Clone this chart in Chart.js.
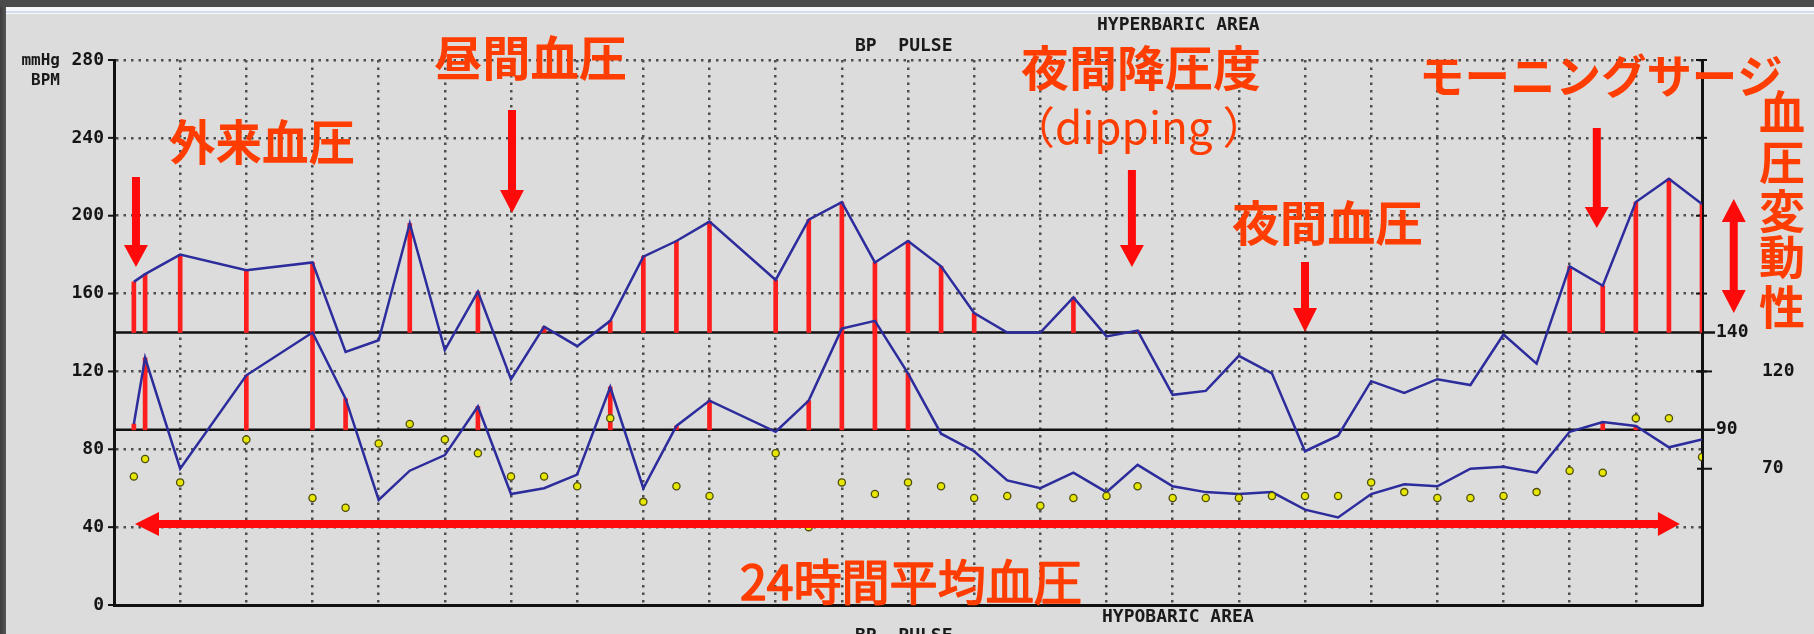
<!DOCTYPE html>
<html>
<head>
<meta charset="utf-8">
<script src="https://cdn.jsdelivr.net/npm/chart.js@4/dist/chart.umd.min.js"></script>
<style>
  html, body { margin: 0; padding: 0; background: #dcdcdc; overflow: hidden; }
  #wrap { position: relative; width: 1814px; height: 634px; }
  canvas { display: block; }
</style>
</head>
<body>
<div id="wrap"><canvas id="c" width="1814" height="634"></canvas></div>
<script>
// ---- data ----
const hours = [0.3,0.47,1,2,3,3.5,4,4.47,5,5.5,6,6.5,7,7.5,8,8.5,9,10,10.5,11,11.5,12,12.5,13,13.5,14,14.5,15,15.47,16,16.5,17,17.5,18,18.5,19,19.5,20,20.5,21,21.5,22,22.5,23,23.5,24];
const systolic = [166,170,180,172,176,130,136,196,131,161,116,143,133,146,179,187,197,167,198,207,176,187,174,150,140,140,158,138,141,108,110,128,119,79,87,115,109,116,113,139,124,174,164,207,219,206];
const diastolic = [93,127,70,118,140,106,54,69,77,102,57,60,67,112,60,92,105,89,105,142,146,119,88,79,64,60,68,58,72,61,58,57,58,49,45,57,62,61,70,71,68,89,94,92,81,85];
const pulse = [66,75,63,85,55,50,83,93,85,78,66,66,61,96,53,61,56,78,40,63,57,63,61,55,56,51,55,56,61,55,55,55,56,56,56,63,58,55,55,56,58,69,68,96,96,76];
const yTicks = [0,40,80,120,160,200,240,280];
const rightTicksNear = [140,90];
const rightTicksFar = [120,70];
const sbpLimit = 140;
const dbpLimit = 90;

// ---- derived series ----
const sbpPts = hours.map((h,i)=>({x:h, y:systolic[i]}));
const dbpPts = hours.map((h,i)=>({x:h, y:diastolic[i]}));
const pulsePts = hours.map((h,i)=>({x:h, y:pulse[i]}));
const sbpExcess = hours.map((h,i)=>({x:h, y:[sbpLimit, systolic[i]]})).filter(p=>p.y[1]>sbpLimit);
const dbpExcess = hours.map((h,i)=>({x:h, y:[dbpLimit, diastolic[i]]})).filter(p=>p.y[1]>dbpLimit);

// ---- annotation anchors in data units (hour, mmHg) ----
const annoTexts = [
  {t:'外来血圧', h0:0.861, h1:3.612, v:237.9, size:48, weight:'bold', stroke:0},
  {t:'昼間血圧', h0:4.866, h1:7.723, v:281.0, size:48, weight:'bold', stroke:0},
  {t:'夜間降圧度', h0:13.737, h1:17.304, v:275.9, size:48, weight:'bold', stroke:0},
  {t:'夜間血圧', h0:16.926, h1:19.752, v:196.3, size:48, weight:'bold', stroke:0},
  {t:'モーニングサージ', h0:19.752, h1:25.193, v:272.0, size:46, weight:'bold', stroke:0},
  {t:'24時間平均血圧', h0:9.491, h1:14.599, v:11.8, size:48, weight:'normal', stroke:1.6}
];
const dipText = {t:'（dipping ）', h0:13.556, v:245.6, size:44};
const vertText = {chars:['血','圧','変','動','性'], h:25.208, v:[253.3,227.6,202.9,178.8,153.6], size:46};
const downArrows = [
  {h:0.332, top:219.9, base:185.0, tip:173.7},
  {h:6.015, top:254.3, base:213.2, tip:201.4},
  {h:15.384, top:223.5, base:185.0, tip:173.7},
  {h:18.0, top:176.2, base:152.6, tip:140.3},
  {h:22.41, top:245.1, base:204.5, tip:193.7}
];
const dblVArrow = {h:24.48, tipTop:208.6, baseTop:196.8, baseBot:161.8, tipBot:150.0};
const dblHArrow = {v:41.6, tipL:0.317, baseL:0.68, baseR:23.334, tipR:23.666};

const RED_TEXT = '#ff3d00';
const RED_ARROW = '#ff0a0a';
const MONO = 'bold 18px "DejaVu Sans Mono", monospace';
const CJK = '"Noto Sans CJK JP", "Noto Sans", sans-serif';

function vArrow(ctx, x, yTop, yBase, yTip, shaftW, headW) {
  ctx.beginPath();
  ctx.moveTo(x - shaftW/2, yTop);
  ctx.lineTo(x + shaftW/2, yTop);
  ctx.lineTo(x + shaftW/2, yBase);
  ctx.lineTo(x + headW/2, yBase);
  ctx.lineTo(x, yTip);
  ctx.lineTo(x - headW/2, yBase);
  ctx.lineTo(x - shaftW/2, yBase);
  ctx.closePath();
  ctx.fill();
}

const decor = {
  id: 'decor',
  beforeDraw(chart) {
    const ctx = chart.ctx, W = chart.width, H = chart.height;
    ctx.save();
    ctx.fillStyle = '#dcdcdc'; ctx.fillRect(0,0,W,H);
    ctx.fillStyle = '#4b4b4b'; ctx.fillRect(0,0,W,7);
    ctx.fillStyle = '#f6f8fb'; ctx.fillRect(0,7,W,7);
    ctx.fillStyle = '#d4ddee'; ctx.fillRect(0,11,W,2);
    const g = ctx.createLinearGradient(0,0,7,0);
    g.addColorStop(0,'#3c3c3c'); g.addColorStop(1,'#5a5a5a');
    ctx.fillStyle = g; ctx.fillRect(0,7,6,H-7);
    ctx.restore();
  },
  beforeDatasetsDraw(chart) {
    const ctx = chart.ctx, a = chart.chartArea, y = chart.scales.y;
    ctx.save();
    // reference lines
    ctx.strokeStyle = '#111'; ctx.lineWidth = 2.5;
    [sbpLimit, dbpLimit].forEach(v => {
      const py = y.getPixelForValue(v);
      ctx.beginPath(); ctx.moveTo(a.left, py); ctx.lineTo(a.right + 13, py); ctx.stroke();
    });
    // small tick marks
    ctx.lineWidth = 2;
    yTicks.forEach(v => {
      const py = y.getPixelForValue(v);
      ctx.beginPath(); ctx.moveTo(a.left - 6, py); ctx.lineTo(a.left, py); ctx.stroke();
      if (v >= 120) { ctx.beginPath(); ctx.moveTo(a.right - 6, py); ctx.lineTo(a.right + 5, py); ctx.stroke(); }
    });
    rightTicksFar.forEach(v => {
      const py = y.getPixelForValue(v);
      ctx.beginPath(); ctx.moveTo(a.right - 5, py); ctx.lineTo(a.right + 10, py); ctx.stroke();
    });
    ctx.restore();
  },
  afterDraw(chart) {
    const ctx = chart.ctx, xs = chart.scales.x, y = chart.scales.y;
    const X = h => xs.getPixelForValue(h), Y = v => y.getPixelForValue(v);
    ctx.save();
    // header / footer labels
    ctx.fillStyle = '#1a1a1a';
    ctx.font = MONO;
    ctx.textBaseline = 'middle';
    ctx.textAlign = 'left';
    ctx.fillText('HYPERBARIC AREA', 1097, 25);
    ctx.fillText('BP  PULSE', 855, 46);
    ctx.fillText('HYPOBARIC AREA', 1102, 617);
    ctx.textBaseline = 'top';
    ctx.fillText('BP  PULSE', 855, 627);
    ctx.textBaseline = 'middle';
    ctx.textAlign = 'right';
    ctx.font = 'bold 16px "DejaVu Sans Mono", monospace';
    ctx.fillText('mmHg', 60, 61);
    ctx.fillText('BPM', 60, 81);

    // arrows
    ctx.fillStyle = RED_ARROW;
    downArrows.forEach(d => vArrow(ctx, X(d.h), Y(d.top), Y(d.base), Y(d.tip), 8, 24));
    // double vertical arrow
    {
      const x = X(dblVArrow.h);
      const t = Y(dblVArrow.tipTop), bt = Y(dblVArrow.baseTop), bb = Y(dblVArrow.baseBot), tb = Y(dblVArrow.tipBot);
      ctx.beginPath();
      ctx.moveTo(x, t); ctx.lineTo(x + 12, bt); ctx.lineTo(x + 4, bt); ctx.lineTo(x + 4, bb);
      ctx.lineTo(x + 12, bb); ctx.lineTo(x, tb); ctx.lineTo(x - 12, bb); ctx.lineTo(x - 4, bb);
      ctx.lineTo(x - 4, bt); ctx.lineTo(x - 12, bt); ctx.closePath(); ctx.fill();
    }
    // double horizontal arrow
    {
      const yy = Y(dblHArrow.v);
      const l = X(dblHArrow.tipL), lb = X(dblHArrow.baseL), rb = X(dblHArrow.baseR), r = X(dblHArrow.tipR);
      ctx.beginPath();
      ctx.moveTo(l, yy); ctx.lineTo(lb, yy - 12); ctx.lineTo(lb, yy - 4); ctx.lineTo(rb, yy - 4);
      ctx.lineTo(rb, yy - 12); ctx.lineTo(r, yy); ctx.lineTo(rb, yy + 12); ctx.lineTo(rb, yy + 4);
      ctx.lineTo(lb, yy + 4); ctx.lineTo(lb, yy + 12); ctx.closePath(); ctx.fill();
    }

    // annotation texts
    ctx.fillStyle = RED_TEXT;
    ctx.strokeStyle = RED_TEXT;
    ctx.lineJoin = 'round';
    ctx.textAlign = 'left';
    ctx.textBaseline = 'middle';
    annoTexts.forEach(o => {
      ctx.font = `${o.weight} ${o.size}px ${CJK}`;
      const w = ctx.measureText(o.t).width;
      const left = X(o.h0) - o.size*0.04, right = X(o.h1) + o.size*0.04;
      const sx = (right - left) / w;
      ctx.save();
      ctx.translate(left, Y(o.v));
      ctx.scale(sx, 1);
      ctx.fillText(o.t, 0, 0);
      if (o.stroke) { ctx.lineWidth = o.stroke; ctx.strokeText(o.t, 0, 0); }
      ctx.restore();
    });
    ctx.font = `normal ${dipText.size}px ${CJK}`;
    ctx.fillText(dipText.t, X(dipText.h0), Y(dipText.v));
    ctx.font = `bold ${vertText.size}px ${CJK}`;
    ctx.textAlign = 'center';
    vertText.chars.forEach((c, i) => ctx.fillText(c, X(vertText.h), Y(vertText.v[i])));
    ctx.restore();
  }
};

const gridStyle = { color: '#4e4e4e', lineWidth: 2.5, drawTicks: false, borderDash: [2.5,5] };
const tickFont = { family: '"DejaVu Sans Mono", monospace', weight: 'bold', size: 18 };

new Chart(document.getElementById('c'), {
  type: 'line',
  data: {
    datasets: [
      { label: '収縮期血圧', data: sbpPts, borderColor: '#2c2c9c', borderWidth: 2.5, pointRadius: 0, tension: 0, order: 1 },
      { label: '拡張期血圧', data: dbpPts, borderColor: '#2c2c9c', borderWidth: 2.5, pointRadius: 0, tension: 0, order: 2 },
      { label: '脈拍', data: pulsePts, showLine: false, pointRadius: 3.6, pointBackgroundColor: '#e6e600', pointBorderColor: '#4d4d10', pointBorderWidth: 1.3, order: 0 },
      { type: 'bar', label: '収縮期 >140', data: sbpExcess, backgroundColor: '#ff1e1e', barThickness: 4, grouped: false, order: 3 },
      { type: 'bar', label: '拡張期 >90', data: dbpExcess, backgroundColor: '#ff1e1e', barThickness: 4, grouped: false, order: 4 }
    ]
  },
  options: {
    responsive: false,
    animation: false,
    devicePixelRatio: 1,
    layout: { padding: { top: 60, bottom: 29, left: 0, right: 0 } },
    plugins: { legend: { display: false }, tooltip: { enabled: false } },
    scales: {
      x: {
        type: 'linear', min: 0, max: 24, offset: false,
        ticks: { display: false, stepSize: 1 },
        grid: Object.assign({ offset: false }, gridStyle),
        border: { display: true, color: '#111', width: 3, dash: [2.5,5] },
        afterFit: s => { s.height = 0; }
      },
      y: {
        position: 'left', min: 0, max: 280,
        afterBuildTicks: s => { s.ticks = yTicks.map(v => ({ value: v })); },
        ticks: { color: '#151515', font: tickFont, padding: 10 },
        grid: gridStyle,
        border: { display: true, color: '#111', width: 3, dash: [2.5,5] },
        afterFit: s => { s.width = 114; }
      },
      y2: {
        position: 'right', min: 0, max: 280, weight: 0,
        afterBuildTicks: s => { s.ticks = rightTicksNear.map(v => ({ value: v })); },
        ticks: { color: '#151515', font: tickFont, padding: 14 },
        grid: { display: false, drawTicks: false },
        border: { display: true, color: '#111', width: 3 },
        afterFit: s => { s.width = 48; }
      },
      y3: {
        position: 'right', min: 0, max: 280, weight: 1,
        afterBuildTicks: s => { s.ticks = rightTicksFar.map(v => ({ value: v })); },
        ticks: { color: '#151515', font: tickFont, padding: 12 },
        grid: { display: false, drawTicks: false },
        border: { display: false },
        afterFit: s => { s.width = 64; }
      }
    }
  },
  plugins: [decor]
});
</script>
</body>
</html>
